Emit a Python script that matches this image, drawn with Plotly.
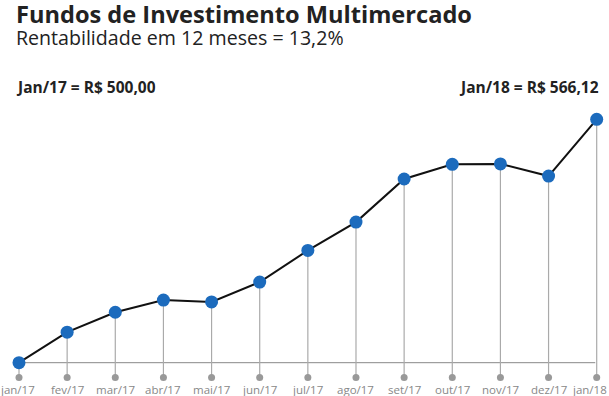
import plotly.graph_objects as go

months = ["jan/17", "fev/17", "mar/17", "abr/17", "mai/17", "jun/17", "jul/17",
          "ago/17", "set/17", "out/17", "nov/17", "dez/17", "jan/18"]
values = [500.00, 508.3, 513.7, 517.0, 516.5, 521.9, 530.5, 538.2, 549.9,
          553.9, 554.0, 550.7, 566.12]
title = "Fundos de Investimento Multimercado"
subtitle = "Rentabilidade em 12 meses = 13,2%"
start_label = "Jan/17 = R$ 500,00"
end_label = "Jan/18 = R$ 566,12"

W, H = 609, 396
idx = list(range(len(months)))

# axis calibration (pixel mapping)
px_per_unit_x = (596.7 - 19.0) / (len(months) - 1)
x_range = [-19.0 / px_per_unit_x, (len(months) - 1) + (W - 596.7) / px_per_unit_x]
y_per_px = (values[-1] - values[0]) / (362.7 - 119.3)
y_range = [values[0] - (H - 362.7) * y_per_px, values[-1] + 119.3 * y_per_px]
dot_level = values[0] - (377.5 - 362.7) * y_per_px

stem_x, stem_y = [], []
for i, v in zip(idx, values):
    stem_x += [i, i, None]
    stem_y += [v, dot_level, None]

fig = go.Figure()
fig.add_trace(go.Scatter(x=stem_x, y=stem_y, mode="lines",
                         line=dict(color="#aaaaaa", width=1.2),
                         hoverinfo="skip", showlegend=False))
fig.add_trace(go.Scatter(x=idx, y=[dot_level] * len(idx), mode="markers",
                         marker=dict(color="#999999", size=7),
                         hoverinfo="skip", showlegend=False))
fig.add_shape(type="line", x0=idx[0], x1=idx[-1] - 0.03, y0=values[0], y1=values[0],
              line=dict(color="#888888", width=1), layer="below")
fig.add_trace(go.Scatter(x=idx, y=values, mode="lines+markers",
                         line=dict(color="#111111", width=2),
                         marker=dict(color="#1c6bbd", size=13,
                                     line=dict(color="#1c6bbd", width=0)),
                         showlegend=False))

layout_annos = []
for i, m in zip(idx, months):
    last = i == idx[-1]
    first = i == idx[0]
    layout_annos.append(dict(x=i, y=dot_level, xref="x", yref="y",
                             xanchor="right" if last else "center", yanchor="middle",
                             xshift=12 if last else (-2 if first else 0), yshift=-12,
                             text=m, showarrow=False,
                             font=dict(size=11.5, color="#888888")))

annos = [
    dict(text=f"<b>{title}</b>", x=15 / W, y=1 - 0 / H, height=25,
         font=dict(size=23.6, color="#222222")),
    dict(text=subtitle, x=15 / W, y=1 - 26 / H, height=21,
         font=dict(size=19.6, color="#222222")),
    dict(text=f"<b>{start_label}</b>", x=15 / W, y=1 - 77 / H, height=18,
         font=dict(size=15.5, color="#222222")),
]
for a in annos:
    layout_annos.append(dict(xref="paper", yref="paper", xanchor="left", yanchor="top",
                             valign="middle", showarrow=False, borderpad=0, **a))
layout_annos.append(dict(xref="paper", yref="paper", xanchor="right", yanchor="top",
                         x=600 / W, y=1 - 77 / H, height=18, valign="middle",
                         borderpad=0, showarrow=False,
                         text=f"<b>{end_label}</b>", font=dict(size=15.5, color="#222222")))

fig.update_layout(
    width=W, height=H,
    margin=dict(l=0, r=0, t=0, b=0),
    paper_bgcolor="white", plot_bgcolor="white",
    font=dict(family="Open Sans"),
    xaxis=dict(range=x_range, visible=False),
    yaxis=dict(range=y_range, visible=False),
    annotations=layout_annos,
    showlegend=False,
)
fig.write_html("out.html", config={"displayModeBar": False},
               post_script="document.body.style.margin='0';")
